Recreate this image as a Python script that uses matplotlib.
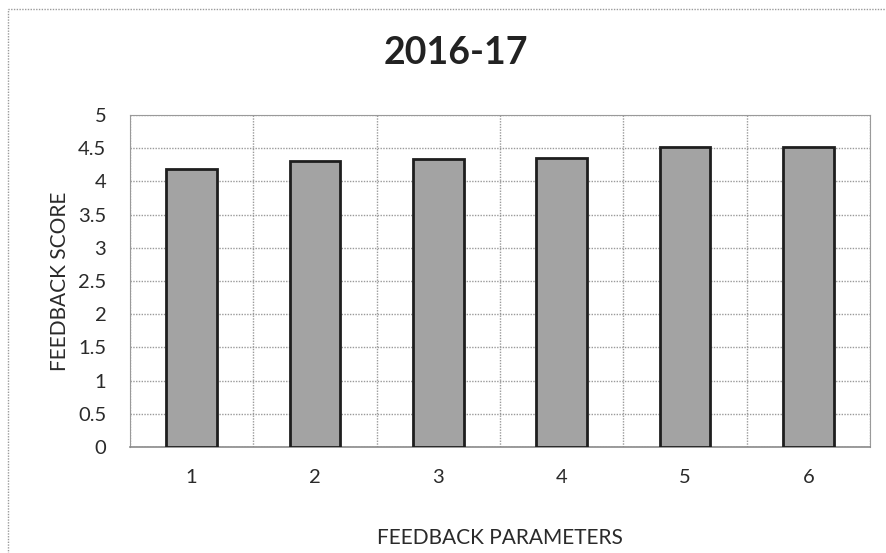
import numpy as np
import matplotlib.pyplot as plt
from matplotlib.patches import Rectangle

plt.rcParams['font.family'] = ['Lato', 'DejaVu Sans']

# data
params = [1, 2, 3, 4, 5, 6]
scores = [4.18, 4.31, 4.34, 4.35, 4.52, 4.52]
title = "2016-17"

fig = plt.figure(figsize=(8.86, 5.53), dpi=100)
ax = fig.add_axes([0.1467, 0.1917, 0.8353, 0.6003])

ax.bar(params, scores, width=0.41, color='#a3a3a3', edgecolor='#1e1e1e',
       linewidth=2, zorder=3)

ax.set_xlim(0.5, 6.5)
ax.set_ylim(0, 5)
ax.set_yticks(np.arange(0, 5.01, 0.5))
ax.set_yticklabels(['0', '0.5', '1', '1.5', '2', '2.5', '3', '3.5', '4', '4.5', '5'])
ax.set_xticks(params)
ax.set_xticks(np.arange(0.5, 6.51, 0.5), minor=True)
ax.tick_params(axis='both', which='both', length=0, labelsize=14.5,
               labelcolor='#2a2a2a')
ax.tick_params(axis='y', pad=17)
ax.tick_params(axis='x', pad=16)

ax.grid(True, axis='y', linestyle=(0, (1, 1)), color='#9a9a9a', linewidth=1)
ax.grid(True, axis='x', which='minor', linestyle=(0, (1, 1)),
        color='#9a9a9a', linewidth=1)
ax.set_axisbelow(True)

for s in ['top', 'right', 'left']:
    ax.spines[s].set_linestyle((0, (1, 1)))
    ax.spines[s].set_color('#9a9a9a')
ax.spines['bottom'].set_color('#8a8a8a')
ax.spines['bottom'].set_linewidth(1.2)

ax.set_xlabel("FEEDBACK PARAMETERS", fontsize=15, color='#2a2a2a', labelpad=30)
ax.set_ylabel("FEEDBACK SCORE", fontsize=15, color='#2a2a2a', labelpad=6)
fig.text(0.514, 0.905, title, ha='center', va='center', fontsize=27,
         fontweight='bold', color='#222222')

# outer chart border
fig.patches.append(Rectangle((0.009, -0.02), 0.995, 1.004,
                             transform=fig.transFigure, fill=False,
                             edgecolor='#9a9a9a', linestyle=(0, (1, 1)),
                             linewidth=1))

plt.savefig("out.png", dpi=100)
